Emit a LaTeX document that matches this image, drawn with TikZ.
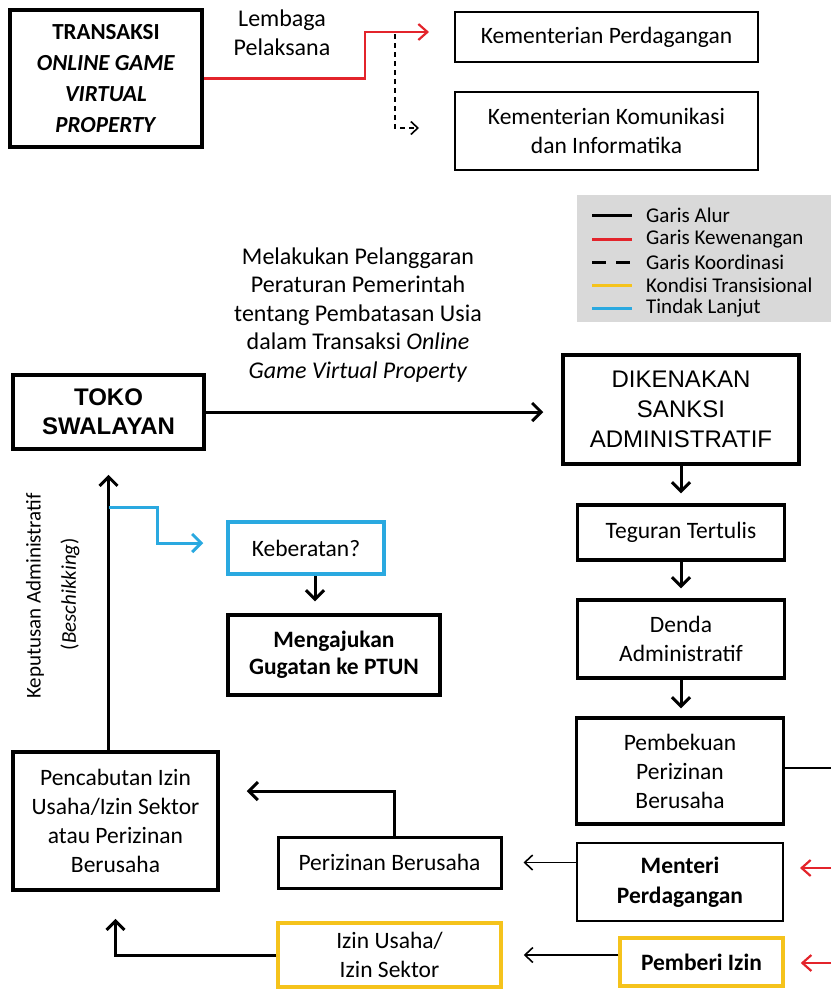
\documentclass[tikz,border=0pt]{standalone}
\usepackage{fontspec}
\setmainfont{Carlito}
\newfontfamily\arialfont{Liberation Sans}
\usetikzlibrary{arrows.meta}

\definecolor{merah}{HTML}{E3242B}
\definecolor{kuning}{HTML}{F5C31C}
\definecolor{biru}{HTML}{2AA9E0}
\definecolor{abu}{HTML}{D9D9D9}

\tikzset{
  kotak/.style={draw, line width=3.5pt, align=center, inner sep=0pt,
    font=\fontsize{23.5}{29}\selectfont},
  kotaktipis/.style={kotak, line width=2pt},
  teks/.style={align=center, inner sep=0pt, font=\fontsize{24}{28.5}\selectfont},
  legenda/.style={inner sep=0pt, font=\fontsize{21}{23}\selectfont},
  alur/.style={line width=3pt, -{Straight Barb[length=9pt,width=18pt]}},
  alurtipis/.style={line width=1.6pt, -{Straight Barb[length=8pt,width=15pt]}},
  kewenangan/.style={merah, line width=2.2pt, -{Straight Barb[length=9pt,width=16pt]}},
  koordinasi/.style={line width=1.4pt, dash pattern=on 5pt off 4pt, -{Straight Barb[length=7pt,width=13pt,line width=1.6pt]}},
  tindak/.style={biru, line width=3pt, -{Straight Barb[length=9pt,width=18pt]}},
  garisalur/.style={line width=3pt},
  garismerah/.style={merah, line width=3pt},
  garisputus/.style={line width=3pt, dash pattern=on 14pt off 10pt},
  gariskuning/.style={kuning, line width=3pt},
  garisbiru/.style={biru, line width=3pt}
}

\begin{document}
\begin{tikzpicture}[x=1pt,y=-1pt]
  \useasboundingbox (0,0) rectangle (831,991);

  % bagian atas
  \node[kotak, font=\bfseries\fontsize{23}{31}\selectfont, minimum width=192pt, minimum height=137pt] (transaksi) at (106,78.5)
    {TRANSAKSI\\\textit{ONLINE GAME}\\\textit{VIRTUAL}\\\textit{PROPERTY}};
  \node[teks] (lembaga) at (282,33) {Lembaga\\Pelaksana};
  \node[kotaktipis, minimum width=303pt, minimum height=50pt] (kemdag) at (606.5,37) {Kementerian Perdagangan};
  \node[kotaktipis, minimum width=303pt, minimum height=78pt] (kominfo) at (606.5,131) {Kementerian Komunikasi\\dan Informatika};

  \coordinate (belok) at (365,32);
  \coordinate (koor) at (395,34);
  \draw[kewenangan, shorten >=25pt] (transaksi.east) -| (belok) -- (kemdag.west |- belok);
  \draw[koordinasi, shorten >=35pt] (koor) |- ([yshift=3pt]kominfo.west);

  % keterangan
  \fill[abu] (577,195) rectangle (831,322);
  \foreach \yy/\gaya/\isi [count=\i] in {215/garisalur/Garis Alur, 239/garismerah/Garis Kewenangan,
      262/garisputus/Garis Koordinasi, 285/gariskuning/Kondisi Transisional, 308/garisbiru/Tindak Lanjut}{
    \draw[\gaya] (592,\yy) -- (632,\yy);
    \node[legenda, anchor=west] (leg\i) at (646,\yy) {\isi};
  }

  % alur utama
  \node[teks] (pelanggaran) at (358,315) {Melakukan Pelanggaran\\Peraturan Pemerintah\\tentang Pembatasan Usia\\dalam Transaksi \textit{Online}\\\textit{Game Virtual Property}};
  \node[kotak, font=\arialfont\bfseries\fontsize{24}{29}\selectfont, minimum width=191pt, minimum height=74pt] (toko) at (108.5,412) {TOKO\\SWALAYAN};
  \node[kotak, font=\arialfont\fontsize{24}{30}\selectfont, minimum width=236pt, minimum height=109pt] (sanksi) at (681,409.5) {DIKENAKAN\\SANKSI\\ADMINISTRATIF};
  \node[kotak, minimum width=207pt, minimum height=55pt] (teguran) at (681,532.5) {Teguran Tertulis};
  \node[kotak, minimum width=207pt, minimum height=78pt] (denda) at (681,639) {Denda\\Administratif};
  \node[kotak, minimum width=207pt, minimum height=106pt] (pembekuan) at (680,771) {Pembekuan\\Perizinan\\Berusaha};
  \node[kotaktipis, font=\bfseries\fontsize{23.5}{30}\selectfont, minimum width=206pt, minimum height=78pt] (menteri) at (680,882) {Menteri\\Perdagangan};
  \node[kotak, draw=kuning, font=\bfseries\fontsize{23.5}{29}\selectfont, minimum width=163pt, minimum height=48pt] (pemberi) at (701.5,962) {Pemberi Izin};

  \node[kotak, draw=biru, minimum width=156pt, minimum height=52pt] (keberatan) at (306,548) {Keberatan?};
  \node[kotak, font=\bfseries\fontsize{23.5}{27}\selectfont, minimum width=212pt, minimum height=80pt] (gugatan) at (334,655) {Mengajukan\\Gugatan ke PTUN};
  \node[kotak, line width=3pt, minimum width=223pt, minimum height=51pt] (perizinan) at (389.5,862.5) {Perizinan Berusaha};
  \node[kotak, draw=kuning, minimum width=223pt, minimum height=64pt] (izinusaha) at (389.5,955) {Izin Usaha/\\Izin Sektor};
  \node[kotak, minimum width=205pt, minimum height=138pt] (pencabutan) at (115.5,821) {Pencabutan Izin\\Usaha/Izin Sektor\\atau Perizinan\\Berusaha};

  \node[rotate=90, inner sep=0pt, font=\fontsize{21}{25}\selectfont] (keputusan) at (35,596) {Keputusan Administratif};
  \node[rotate=90, inner sep=0pt, font=\fontsize{21}{25}\selectfont] (beschikking) at (70,594) {(\textit{Beschikking})};

  \draw[alur, shorten >=18pt] (toko.east) -- (toko.east -| sanksi.west);
  \draw[alur, shorten >=10pt] (sanksi.south) -- (teguran.north);
  \draw[alur, shorten >=10pt] (teguran.south) -- (denda.north);
  \draw[alur, shorten >=8pt] (denda.south) -- (denda.south |- pembekuan.north);

  \coordinate (tepi) at (831,768);
  \draw[line width=2pt] (pembekuan.east |- tepi) -- (tepi);
  \coordinate (kew1) at (831,868);
  \coordinate (kew2) at (831,963);
  \draw[kewenangan, shorten >=16pt] (kew1) -- (kew1 -| menteri.east);
  \draw[kewenangan, shorten >=16pt] (kew2) -- (kew2 -| pemberi.east);

  \draw[alurtipis, shorten >=21pt] (menteri.west |- perizinan.east) -- (perizinan.east);
  \draw[alurtipis, shorten >=21pt] (pemberi.west |- izinusaha.east) -- (izinusaha.east);
  \draw[alur, shorten >=27pt] ([xshift=5pt]perizinan.north) |- ([yshift=30pt]pencabutan.east);
  \draw[alur, shorten >=27pt] (izinusaha.west) -| (pencabutan.south);
  \draw[alur, shorten >=24pt] (pencabutan.north -| toko.south) -- (toko.south);

  \coordinate (cabang) at (108.5,507);
  \draw[tindak, shorten >=23pt] (cabang) -- ++(49,0) |- ([yshift=5pt]keberatan.west);
  \draw[alur, shorten >=12pt] ([xshift=9pt]keberatan.south) -- ([xshift=9pt]keberatan.south |- gugatan.north);
\end{tikzpicture}
\end{document}
